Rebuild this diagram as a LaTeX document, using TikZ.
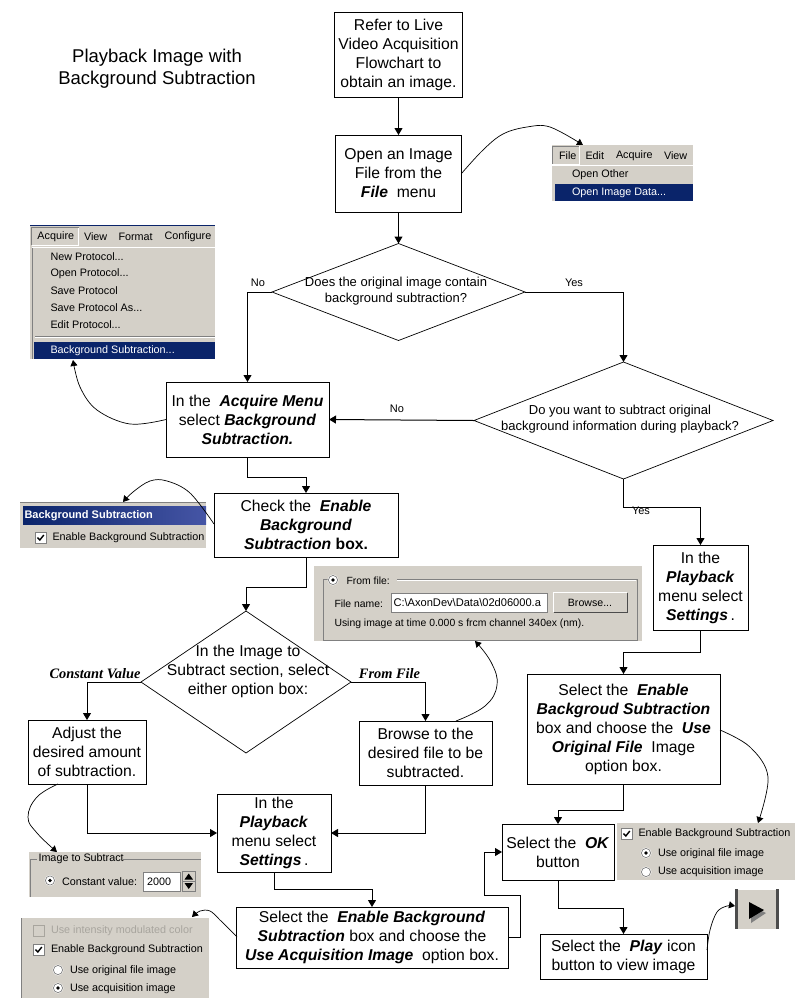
\documentclass[tikz,border=0pt]{standalone}
\usepackage{fontspec}
\setmainfont{Liberation Sans}
\newfontfamily\serifui{Liberation Serif}
\usetikzlibrary{arrows.meta,shapes.geometric}
\definecolor{panelgray}{HTML}{D4D0C8}
\definecolor{navy}{HTML}{0A246A}
\definecolor{edgegray}{HTML}{808080}
\definecolor{dimgray}{HTML}{A8A59E}
\newcommand{\bi}[1]{\textbf{\textit{#1}}}
\tikzset{
  every node/.style={inner sep=0pt,outer sep=0pt},
  stepbox/.style={draw=black,line width=0.9pt,fill=white,align=center,font=\fontsize{15.7}{19}\selectfont},
  decide/.style={draw=black,line width=0.7pt,diamond,fill=white,inner sep=0pt},
  decidetext/.style={align=center},
  flow/.style={draw=black,line width=1pt,-{Triangle[width=8pt,length=7pt]}},
  callout/.style={draw=black,line width=0.7pt,-{Triangle[width=7pt,length=6pt]}},
  branch/.style={font=\fontsize{11}{13}\selectfont},
  sidelabel/.style={font=\serifui\fontsize{14.4}{16}\selectfont\bfseries\itshape},
  uitext/.style={anchor=west,font=\fontsize{10.8}{13}\selectfont},
  smallui/.style={anchor=west,font=\fontsize{10.4}{13}\selectfont},
}
\newcommand{\ui}[4]{\node[uitext] (#1) at (#2,#3) {#4};}
\newcommand{\uis}[4]{\node[smallui] (#1) at (#2,#3) {#4};}
\newcommand{\uiw}[4]{\node[uitext,text=white] (#1) at (#2,#3) {#4};}
\newcommand{\radio}[3]{%
  \fill[white] (#1,#2) circle (5.5);
  \draw[edgegray,line width=0.7pt] (#1,#2) circle (4.6);
  \if1#3\fill[black] (#1,#2) circle (1.8);\fi}
\newcommand{\checkb}[2]{%
  \draw[edgegray,fill=white,line width=0.8pt] (#1,#2) rectangle ++(11,11);
  \draw[black,line width=1.4pt] (#1+2.5,#2+5.5) -- (#1+4.8,#2+8) -- (#1+8.8,#2+3);}
\begin{document}
\begin{tikzpicture}[x=1pt,y=-1pt]
\useasboundingbox (0,0) rectangle (797,1002);
\fill[white] (0,0) rectangle (797,1002);

% title
\node[align=center,font=\fontsize{18.5}{22}\selectfont] (title) at (157,68.5) {Playback Image with\\Background Subtraction};

% ---------- screenshot panels ----------
% File menu
\fill[panelgray] (552,145) rectangle (693,201);
\draw[white,line width=0.8pt] (552,165) -- (693,165);
\draw[edgegray,line width=0.8pt] (552.5,164) -- (552.5,146) -- (579,146);
\draw[white,line width=0.8pt] (579.5,146) -- (579.5,164) -- (552,164);
\fill[navy] (555,184) rectangle (693,201);
\ui{mfile}{559}{156}{File}
\ui{medit}{585.5}{155.5}{Edit}
\ui{macq}{616}{155.5}{Acquire}
\ui{mview}{664}{155.5}{View}
\ui{mother}{572}{175}{Open Other}
\uiw{mdata}{572}{192.5}{Open Image Data...}

% Acquire menu
\fill[panelgray] (30,225) rectangle (215,359);
\draw[navy,line width=0.8pt] (30,225.5) -- (215,225.5);
\draw[edgegray,line width=0.8pt] (31.5,245) -- (31.5,227.5) -- (78.5,227.5);
\draw[white,line width=0.8pt] (78.5,227.5) -- (78.5,245) -- (31.5,245);
\draw[white,line width=0.8pt] (32,247) -- (215,247);
\draw[edgegray,line width=0.8pt] (32,248) -- (32,359);
\draw[edgegray,line width=0.8pt] (35,336.5) -- (215,336.5);
\draw[white,line width=0.8pt] (35,337.7) -- (215,337.7);
\fill[navy] (34,342) rectangle (215,359);
\ui{aacq}{37.5}{237}{Acquire}
\ui{aview}{84}{236.5}{View}
\ui{aform}{118.5}{236.5}{Format}
\ui{aconf}{164.5}{236.5}{Configure}
\ui{anew}{50.5}{256.5}{New Protocol...}
\ui{aopen}{50.5}{273.5}{Open Protocol...}
\ui{asave}{50.5}{290.5}{Save Protocol}
\ui{asaveas}{50.5}{307.5}{Save Protocol As...}
\ui{aedit}{50.5}{324.5}{Edit Protocol...}
\uiw{abg}{50.5}{350.5}{Background Subtraction...}

% Background subtraction dialog
\fill[panelgray] (20,502) rectangle (206,548);
\draw[edgegray,line width=0.8pt] (20,502.5) -- (206,502.5);
\shade[left color=navy,right color=navy!80!blue!75!white] (23,506) rectangle (206,524);
\node[uitext,text=white,font=\fontsize{11}{13}\selectfont\bfseries] (bgtitle) at (24.5,515.5) {Background Subtraction};
\checkb{35}{532}
\ui{bgen}{52.5}{538}{Enable Background Subtraction}

% From file panel
\fill[panelgray] (314,566) rectangle (642,641);
\draw[edgegray,line width=0.7pt] (323,640) -- (323,579.5) -- (330,579.5);
\draw[edgegray,line width=0.7pt] (397,579.5) -- (637,579.5) -- (637,640) -- (323,640);
\draw[white,line width=0.5pt] (397,580.5) -- (636,580.5);
\radio{333}{580}{1}
\uis{ffrom}{346.5}{581}{From file:}
\uis{fname}{334.5}{603.5}{File name:}
\draw[edgegray,fill=white,line width=0.8pt] (391.5,593) rectangle (547,612);
\node[uitext,font=\fontsize{11.1}{13}\selectfont] (fpath) at (393.5,602.5) {C:\textbackslash AxonDev\textbackslash Data\textbackslash 02d06000.a};
\fill[panelgray] (553,592) rectangle (627,612);
\draw[white,line width=0.8pt] (553.5,612) -- (553.5,592.5) -- (627,592.5);
\draw[black!70,line width=1pt] (627,592.5) -- (627,612) -- (553.5,612);
\node[font=\fontsize{10.6}{13}\selectfont] (fbrowse) at (590,602.5) {Browse...};
\uis{fusing}{334.5}{624}{Using image at time 0.000 s frcm channel 340ex (nm).}

% Image to subtract panel
\fill[panelgray] (29,852) rectangle (201,897);
\draw[edgegray,line width=0.7pt] (30,897) -- (30,859.5) -- (37,859.5);
\draw[edgegray,line width=0.7pt] (123,859.5) -- (201,859.5);
\ui{itit}{38.5}{859}{Image to Subtract}
\radio{50}{880.5}{1}
\ui{ilab}{62}{882}{Constant value:}
\draw[edgegray,fill=white,line width=0.8pt] (143.5,872) rectangle (180,891);
\ui{ival}{147}{881.5}{2000}
\draw[edgegray,fill=panelgray,line width=0.6pt] (182.5,871.5) rectangle (195,891);
\draw[edgegray,line width=0.6pt] (182.5,881) -- (195,881);
\fill[black] (188.7,873.5) -- (193,879.5) -- (184.5,879.5) -- cycle;
\fill[black] (188.7,889) -- (193,883) -- (184.5,883) -- cycle;

% lower left options panel
\fill[panelgray] (21,918) rectangle (209,998);
\draw[edgegray,line width=1pt] (21.5,918) -- (21.5,998);
\draw[dimgray,line width=0.8pt] (33,925) rectangle (44,936);
\node[uitext,text=dimgray] (lint) at (51,930.5) {Use intensity modulated color};
\checkb{33}{944}
\ui{len}{51}{949.5}{Enable Background Subtraction}
\radio{58}{970}{0}
\ui{lorig}{70}{970.5}{Use original file image}
\radio{58}{988}{1}
\ui{lacq}{70}{988.5}{Use acquisition image}

% right options panel
\fill[panelgray] (617,823) rectangle (795,880);
\checkb{621}{828}
\ui{ren}{638.5}{834}{Enable Background Subtraction}
\radio{646}{853}{1}
\ui{rorig}{658}{854}{Use original file image}
\radio{646}{872}{0}
\ui{racq}{658}{872}{Use acquisition image}

% play button
\fill[panelgray] (735,889) rectangle (779,929);
\draw[white,line width=0.8pt] (737,889.5) -- (776,889.5);
\fill[black!70] (735,889) rectangle (738,929);
\fill[black!70] (776,889) rectangle (779,929);
\fill[edgegray] (751,906) -- (766,913) -- (751,923) -- cycle;
\fill[black] (749,902) -- (764,910) -- (749,919) -- cycle;

% ---------- flowchart nodes ----------
\node[stepbox,minimum width=128pt,minimum height=85pt] (refer) at (398.5,55) {Refer to Live\\Video Acquisition\\Flowchart to\\obtain an image.};
\node[stepbox,minimum width=126pt,minimum height=77pt] (open) at (398.5,173.5) {Open an Image\\File from the\\\bi{File}\ \ menu};
\node[decide,minimum width=253pt,minimum height=97pt] (dorig) at (398.5,292) {};
\node[decidetext,font=\fontsize{13}{16}\selectfont] (dorigt) at (396,291.5) {Does the original image contain\\background subtraction?};
\node[stepbox,minimum width=163pt,minimum height=75pt] (acq) at (247.5,419.5) {In the\ \ \bi{Acquire Menu}\\select \bi{Background}\\\bi{Subtraction.}};
\node[decide,minimum width=299pt,minimum height=117pt] (dsub) at (623.5,420.5) {};
\node[decidetext,font=\fontsize{13}{16}\selectfont] (dsubt) at (620,419) {Do you want to subtract original\\background information during playback?};
\node[stepbox,minimum width=184pt,minimum height=64pt] (check) at (306,525) {Check the\ \ \bi{Enable}\\\bi{Background}\\\bi{Subtraction} \textbf{box.}};
\node[decide,minimum width=210pt,minimum height=142pt] (dsec) at (246,682) {};
\node[decidetext,font=\fontsize{15.7}{19}\selectfont] (dsect) at (248,671) {In the Image to\\Subtract section, select\\either option box:};
\node[stepbox,minimum width=118pt,minimum height=64pt] (adj) at (87,752) {Adjust the\\desired amount\\of subtraction.};
\node[stepbox,minimum width=133pt,minimum height=64pt] (browse) at (425.5,753) {Browse to the\\desired file to be\\subtracted.};
\node[stepbox,minimum width=114pt,minimum height=78pt] (pbl) at (274,833) {In the\\\bi{Playback}\\menu select\\\bi{Settings}\,.};
\node[stepbox,minimum width=272pt,minimum height=61pt] (sel) at (372,937.5) {Select the\ \ \bi{Enable Background}\\\bi{Subtraction} box and choose the\\\bi{Use Acquisition Image}\ \ option box.};
\node[stepbox,minimum width=95pt,minimum height=85pt] (pbr) at (700.5,587.5) {In the\\\bi{Playback}\\menu select\\\bi{Settings}\,.};
\node[stepbox,minimum width=193pt,minimum height=110pt] (ser) at (623.5,729) {Select the\ \ \bi{Enable}\\\bi{Backgroud Subtraction}\\box and choose the\ \ \bi{Use}\\\bi{Original File}\ \ Image\\option box.};
\node[stepbox,minimum width=112pt,minimum height=56pt] (ok) at (558,852) {Select the\ \ \bi{OK}\\button};
\node[stepbox,minimum width=167pt,minimum height=45pt] (playb) at (623.5,956.5) {Select the\ \ \bi{Play} icon\\button to view image};

% free ends on the screenshots
\coordinate (tofile) at (583,145);
\coordinate (toacq) at (73,360);
\coordinate (tobg) at (123,502);
\coordinate (tofrom) at (475,641);
\coordinate (toimg) at (57,852);
\coordinate (tolow) at (192,917);
\coordinate (toright) at (758,823);
\coordinate (toplay) at (735,906);
\coordinate (okin) at (484.5,895.5);
\coordinate (okup) at (520.5,895.5);

% ---------- connectors ----------
\draw[flow] (refer) -- (open);
\draw[flow] (open) -- (dorig);
\draw[flow] (dorig.west) -| (acq.north);
\draw[flow] (dorig.east) -| (dsub.north);
\draw[flow] (dsub.west) -- (acq.east);
\draw[flow] (acq.south) |- ++(58.5,20) -- (check.north);
\draw[flow] (check.south) |- ++(-60,30) -- (dsec.north);
\draw[flow] (dsub.south) |- ++(77,28) -- (pbr.north);
\draw[flow] (dsec.west) -| (adj.north);
\draw[flow] (dsec.east) -| (browse.north);
\draw[flow] (adj.south) |- (pbl.west);
\draw[flow] (browse.south) |- (pbl.east);
\draw[flow] (pbl.south) |- ++(98,17) -- (sel.north);
\draw[flow] (pbr.south) |- ++(-77,22) -- (ser.north);
\draw[flow] (ser.south) |- ++(-65.5,26) -- (ok.north);
\draw[flow] (ok.south) |- ++(65.5,28) -- (playb.north);
\draw[flow] (sel.east) -| (okup) -- (okin) |- (ok.west);

% curved callouts
\draw[callout] plot[smooth,tension=0.6] coordinates {(open.east) (483,150) (503,134) (527,127) (550,127) (tofile)};
\draw[callout] plot[smooth,tension=0.6] coordinates {(acq.west) (130,424) (97,410) (80,387) (toacq)};
\draw[callout] plot[smooth,tension=0.6] coordinates {(214,524) (190,493) (167,481) (150,481) (133,492) (tobg)};
\draw[callout] plot[smooth,tension=0.7] coordinates {(456,721) (485,706) (497,685) (491,662) (tofrom)};
\draw[callout] plot[smooth,tension=0.7] coordinates {(58,784) (37,797) (28,817) (37,833) (toimg)};
\draw[callout] plot[smooth,tension=0.6] coordinates {(237,937) (220,920) (210,911) (200,911) (tolow)};
\draw[callout] plot[smooth,tension=0.6] coordinates {(720,730) (750,747) (768,777) (toright)};
\draw[callout] plot[smooth,tension=0.6] coordinates {(707,950) (710,930) (717,912) (727,906) (toplay)};

% labels
\node[branch] (lno) at (258,282.5) {No};
\node[branch] (lyes) at (574,282.5) {Yes};
\node[branch] (lno2) at (397,409) {No};
\node[branch] (lyes2) at (641,511) {Yes};
\node[sidelabel] (lconst) at (95,673.5) {Constant Value};
\node[sidelabel] (lfile) at (389.5,673.5) {From File};
\end{tikzpicture}
\end{document}
